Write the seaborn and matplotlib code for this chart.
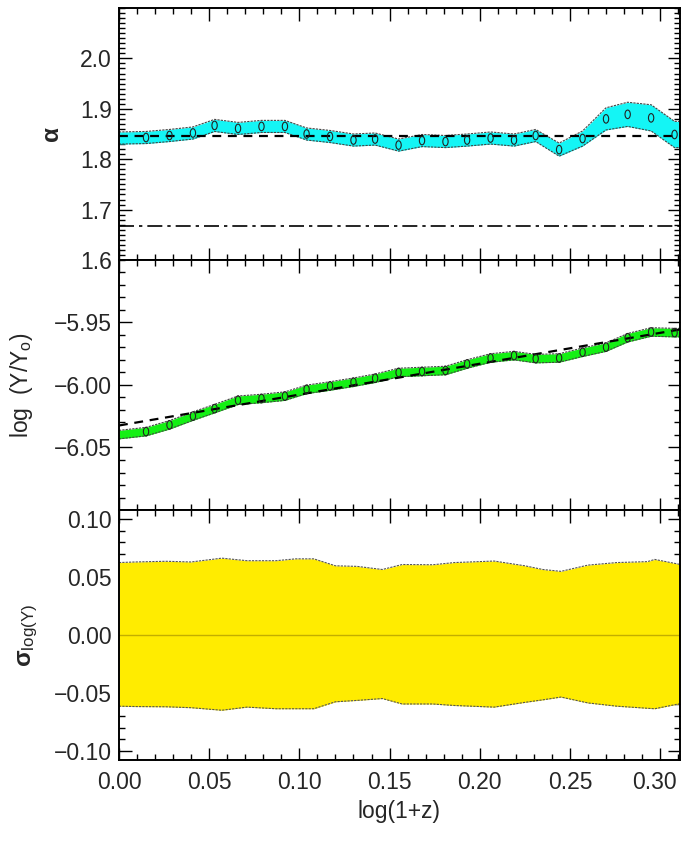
import numpy as np
import pandas as pd
import matplotlib
matplotlib.use("Agg")
import matplotlib.pyplot as plt
from matplotlib import font_manager
from matplotlib.path import Path
from matplotlib.ticker import MultipleLocator, FixedLocator, FuncFormatter
from matplotlib.transforms import ScaledTranslation
import seaborn as sns

# ---- data -------------------------------------------------------------
# redshift bins, log(1+z)
bin_x = [0.015, 0.028, 0.041, 0.053, 0.066, 0.079, 0.092, 0.104,
         0.117, 0.130, 0.142, 0.155, 0.168, 0.181, 0.193, 0.206,
         0.219, 0.231, 0.244, 0.257, 0.270, 0.282, 0.295, 0.308]

# slope alpha per bin and its 1-sigma half width
alpha = [1.843, 1.847, 1.852, 1.867, 1.861, 1.865, 1.865, 1.850,
         1.845, 1.838, 1.840, 1.828, 1.837, 1.835, 1.838, 1.842,
         1.838, 1.847, 1.819, 1.841, 1.880, 1.889, 1.882, 1.849]
alpha_err = [0.012, 0.012, 0.012, 0.012, 0.012, 0.012, 0.012, 0.012,
             0.012, 0.012, 0.012, 0.012, 0.012, 0.012, 0.012, 0.012,
             0.012, 0.012, 0.013, 0.015, 0.022, 0.024, 0.026, 0.026]
alpha_edge = 1.842          # band value at log(1+z)=0
alpha_mean = 1.847
alpha_ref = 5.0 / 3.0

# normalisation log(Y/Y0) per bin and its half width
logy = [-6.0373, -6.0319, -6.0249, -6.0189, -6.0122, -6.0108, -6.0089, -6.0035,
        -6.0008, -5.9978, -5.9946, -5.9900, -5.9892, -5.9884, -5.9832, -5.9784,
        -5.9765, -5.9789, -5.9784, -5.9738, -5.9697, -5.9622, -5.9576, -5.9581]
logy_err = 0.0034
logy_edge = -6.0397
fit_intercept = -6.0324
fit_slope = 0.247

# intrinsic scatter envelope
sig_x = [0.000, 0.009, 0.026, 0.040, 0.057, 0.071, 0.087, 0.098, 0.108,
         0.120, 0.132, 0.146, 0.157, 0.174, 0.186, 0.208, 0.225, 0.235,
         0.245, 0.260, 0.276, 0.293, 0.297, 0.312]
sig_hi = [0.0626, 0.0631, 0.0637, 0.0631, 0.0664, 0.0642, 0.0642, 0.0658, 0.0658,
          0.0598, 0.0593, 0.0566, 0.0609, 0.0607, 0.0626, 0.0639, 0.0598, 0.0566,
          0.0550, 0.0604, 0.0626, 0.0634, 0.0653, 0.0607]
sig_lo = [-0.0615, -0.0618, -0.0620, -0.0628, -0.0650, -0.0623, -0.0637, -0.0637, -0.0637,
          -0.0577, -0.0565, -0.0549, -0.0596, -0.0596, -0.0609, -0.0623, -0.0582, -0.0560,
          -0.0536, -0.0587, -0.0615, -0.0633, -0.0637, -0.0590]

xticks = [0.00, 0.05, 0.10, 0.15, 0.20, 0.25, 0.30]

# ---- style ------------------------------------------------------------
sns.set_theme(style="ticks")
names = {f.name for f in font_manager.fontManager.ttflist}
family = next((n for n in ["Liberation Sans Narrow", "Liberation Sans"] if n in names),
              "DejaVu Sans")
plt.rcParams["font.family"] = [family, "DejaVu Sans"]
plt.rcParams["mathtext.fontset"] = "custom"
plt.rcParams["mathtext.rm"] = family
plt.rcParams["mathtext.it"] = family
plt.rcParams["mathtext.bf"] = family + ":bold"

FS = 16.5
CYAN = "#14F5F5"
GREEN = "#14F014"
YELLOW = "#FFEC00"


def fmt(decimals):
    return FuncFormatter(lambda v, p: f"{v:.{decimals}f}".replace("-", "\u2212"))


circ = Path.unit_circle()
oval = Path(circ.vertices * np.array([0.62, 1.0]), circ.codes)

fig = plt.figure(figsize=(6.81, 8.51), dpi=100)
L, W = 0.1747, 0.8238
ax_a = fig.add_axes([L, 0.6945, W, 0.2961])
ax_y = fig.add_axes([L, 0.4007, W, 0.2938], sharex=ax_a)
ax_s = fig.add_axes([L, 0.1069, W, 0.2938], sharex=ax_a)

band_x = np.array([0.0] + bin_x + [0.312])

# top: alpha
a = np.array([alpha_edge] + alpha + [alpha[-1]])
ae = np.array([alpha_err[0]] + alpha_err + [alpha_err[-1]])
ax_a.fill_between(band_x, a - ae, a + ae, color=CYAN, lw=0, zorder=1)
for edge in (a - ae, a + ae):
    sns.lineplot(x=band_x, y=edge, ax=ax_a, color="#444444", lw=0.8,
                 linestyle=(0, (2, 1)), zorder=2)
sns.scatterplot(x=bin_x, y=alpha, ax=ax_a, marker=oval, s=38,
                facecolor="none", edgecolor="#222222", linewidth=0.8, zorder=4)
ax_a.axhline(alpha_mean, color="black", lw=1.6, ls=(0, (4, 3)), zorder=3)
ax_a.axhline(alpha_ref, color="black", lw=1.2, ls=(0, (9, 3, 2, 3)), zorder=3)
ax_a.set_ylim(1.6, 2.1)
ax_a.yaxis.set_major_locator(FixedLocator([1.6, 1.7, 1.8, 1.9, 2.0]))
ax_a.yaxis.set_minor_locator(MultipleLocator(0.01))
ax_a.yaxis.set_major_formatter(fmt(1))
ax_a.set_ylabel("α", fontsize=FS + 1, fontweight="bold", rotation=90)
ax_a.yaxis.set_label_coords(-0.100, 0.5)

# middle: log(Y/Y0)
ly = np.array([logy_edge] + logy + [logy[-1]])
ax_y.fill_between(band_x, ly - logy_err, ly + logy_err, color=GREEN, lw=0, zorder=1)
for edge in (ly - logy_err, ly + logy_err):
    sns.lineplot(x=band_x, y=edge, ax=ax_y, color="#444444", lw=0.8,
                 linestyle=(0, (2, 1)), zorder=2)
sns.scatterplot(x=bin_x, y=logy, ax=ax_y, marker=oval, s=38,
                facecolor="none", edgecolor="#222222", linewidth=0.8, zorder=4)
fit_x = np.array([0.0, 0.312])
sns.lineplot(x=fit_x, y=fit_intercept + fit_slope * fit_x, ax=ax_y, color="black",
             lw=1.6, linestyle=(0, (4, 3)), zorder=3)
ax_y.set_ylim(-6.10, -5.90)
ax_y.yaxis.set_major_locator(FixedLocator([-6.05, -6.00, -5.95]))
ax_y.yaxis.set_minor_locator(MultipleLocator(0.01))
ax_y.yaxis.set_major_formatter(fmt(2))
ax_y.set_ylabel("log  (Y/Y$_{\\rm o}$)", fontsize=FS)
ax_y.yaxis.set_label_coords(-0.150, 0.5)

# bottom: scatter envelope
ax_s.fill_between(sig_x, sig_lo, sig_hi, color=YELLOW, lw=0, zorder=1)
for edge in (sig_lo, sig_hi):
    sns.lineplot(x=sig_x, y=edge, ax=ax_s, color="#555555", lw=0.8,
                 linestyle=(0, (2, 1)), zorder=2)
ax_s.axhline(0.0, color="#C2AE00", lw=1.0, zorder=3)
ax_s.set_ylim(-0.108, 0.108)
ax_s.yaxis.set_major_locator(FixedLocator([-0.10, -0.05, 0.00, 0.05, 0.10]))
ax_s.yaxis.set_minor_locator(MultipleLocator(0.01))
ax_s.yaxis.set_major_formatter(fmt(2))
ax_s.set_ylabel("σ$_{\\rm log(Y)}$", fontsize=FS + 1, fontweight="bold")
ax_s.yaxis.set_label_coords(-0.140, 0.5)

ax_s.set_xlim(0.0, 0.311)
ax_s.xaxis.set_major_locator(FixedLocator(xticks))
ax_s.xaxis.set_minor_locator(MultipleLocator(0.01))
ax_s.xaxis.set_major_formatter(fmt(2))
ax_s.set_xlabel("log(1+z)", fontsize=FS, labelpad=4)

for ax in (ax_a, ax_y, ax_s):
    ax.set_facecolor("white")
    for sp in ax.spines.values():
        sp.set_color("black")
        sp.set_linewidth(1.4)
        sp.set_zorder(6)
    ax.tick_params(which="both", direction="in", top=True, right=True,
                   color="black", labelsize=FS, width=1.0)
    ax.tick_params(which="major", length=9)
    ax.tick_params(which="minor", length=4.5)
    ax.tick_params(axis="y", pad=5)
    ax.tick_params(axis="x", pad=8)
    if ax is not ax_s:
        ax.tick_params(axis="x", labelbottom=False)

# keep the last x tick label inside the canvas
fig.canvas.draw()
last = ax_s.get_xticklabels()[-1]
last.set_transform(last.get_transform() + ScaledTranslation(-6 / 100, 0, fig.dpi_scale_trans))

fig.savefig("out.png", dpi=100)
